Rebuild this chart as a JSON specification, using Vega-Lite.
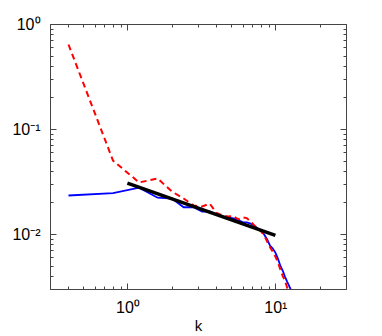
{
  "$schema": "https://vega.github.io/schema/vega-lite/v6.json",
  "width": 296,
  "height": 265,
  "autosize": "none",
  "padding": {"left": 50, "top": 24, "right": 36, "bottom": 47},
  "background": "white",
  "config": {
    "view": {"stroke": null},
    "axis": {
      "domainColor": "#444",
      "tickColor": "#444",
      "grid": false,
      "labelFont": "Liberation Sans",
      "labelFontSize": 16,
      "labelColor": "#000",
      "titleFont": "Liberation Sans",
      "titleFontSize": 15,
      "titleFontWeight": "normal",
      "titleColor": "#000",
      "labelOverlap": false,
      "labelFlush": false
    }
  },
  "datasets": {
    "spec": [
      {"k": 0.4, "E": 0.0233, "s": "blue"},
      {"k": 0.8, "E": 0.0245, "s": "blue"},
      {"k": 1.2, "E": 0.0277, "s": "blue"},
      {"k": 1.6, "E": 0.0222, "s": "blue"},
      {"k": 2.0, "E": 0.0218, "s": "blue"},
      {"k": 2.4, "E": 0.0180, "s": "blue"},
      {"k": 2.8, "E": 0.0180, "s": "blue"},
      {"k": 3.2, "E": 0.0164, "s": "blue"},
      {"k": 3.6, "E": 0.0164, "s": "blue"},
      {"k": 4.0, "E": 0.0153, "s": "blue"},
      {"k": 4.4, "E": 0.0147, "s": "blue"},
      {"k": 4.8, "E": 0.0144, "s": "blue"},
      {"k": 5.2, "E": 0.0141, "s": "blue"},
      {"k": 5.6, "E": 0.0136, "s": "blue"},
      {"k": 6.0, "E": 0.0130, "s": "blue"},
      {"k": 6.4, "E": 0.0129, "s": "blue"},
      {"k": 6.8, "E": 0.0126, "s": "blue"},
      {"k": 7.2, "E": 0.0120, "s": "blue"},
      {"k": 7.6, "E": 0.0113, "s": "blue"},
      {"k": 8.0, "E": 0.0108, "s": "blue"},
      {"k": 8.4, "E": 0.0099, "s": "blue"},
      {"k": 8.8, "E": 0.00887, "s": "blue"},
      {"k": 9.2, "E": 0.00777, "s": "blue"},
      {"k": 9.6, "E": 0.00728, "s": "blue"},
      {"k": 10.0, "E": 0.00667, "s": "blue"},
      {"k": 10.4, "E": 0.00585, "s": "blue"},
      {"k": 10.8, "E": 0.0050, "s": "blue"},
      {"k": 11.2, "E": 0.0045, "s": "blue"},
      {"k": 11.6, "E": 0.00394, "s": "blue"},
      {"k": 12.0, "E": 0.00353, "s": "blue"},
      {"k": 12.4, "E": 0.0032, "s": "blue"},
      {"k": 12.8, "E": 0.0029, "s": "blue"},
      {"k": 13.2, "E": 0.0025, "s": "blue"},
      {"k": 0.4, "E": 0.638, "s": "red"},
      {"k": 0.8, "E": 0.050, "s": "red"},
      {"k": 1.2, "E": 0.031, "s": "red"},
      {"k": 1.6, "E": 0.0338, "s": "red"},
      {"k": 2.0, "E": 0.0254, "s": "red"},
      {"k": 2.4, "E": 0.0218, "s": "red"},
      {"k": 2.8, "E": 0.0187, "s": "red"},
      {"k": 3.2, "E": 0.0183, "s": "red"},
      {"k": 3.6, "E": 0.0195, "s": "red"},
      {"k": 4.0, "E": 0.0159, "s": "red"},
      {"k": 4.4, "E": 0.0150, "s": "red"},
      {"k": 4.8, "E": 0.0147, "s": "red"},
      {"k": 5.2, "E": 0.0149, "s": "red"},
      {"k": 5.6, "E": 0.0138, "s": "red"},
      {"k": 6.0, "E": 0.0144, "s": "red"},
      {"k": 6.4, "E": 0.0142, "s": "red"},
      {"k": 6.8, "E": 0.0132, "s": "red"},
      {"k": 7.2, "E": 0.0121, "s": "red"},
      {"k": 7.6, "E": 0.0113, "s": "red"},
      {"k": 8.0, "E": 0.0106, "s": "red"},
      {"k": 8.4, "E": 0.0097, "s": "red"},
      {"k": 8.8, "E": 0.0085, "s": "red"},
      {"k": 9.2, "E": 0.0075, "s": "red"},
      {"k": 9.6, "E": 0.0068, "s": "red"},
      {"k": 10.0, "E": 0.0061, "s": "red"},
      {"k": 10.4, "E": 0.0054, "s": "red"},
      {"k": 10.8, "E": 0.0046, "s": "red"},
      {"k": 11.2, "E": 0.0040, "s": "red"},
      {"k": 11.6, "E": 0.0036, "s": "red"},
      {"k": 12.0, "E": 0.0031, "s": "red"},
      {"k": 12.4, "E": 0.0028, "s": "red"},
      {"k": 12.8, "E": 0.0025, "s": "red"},
      {"k": 1.0, "E": 0.0305, "s": "fit"},
      {"k": 10.0, "E": 0.0097, "s": "fit"}
    ]
  },
  "data": {"name": "spec"},
  "layer": [
    {
      "transform": [{"filter": "datum.s == 'blue'"}],
      "mark": {"type": "line", "color": "#0000ff", "strokeWidth": 1.8, "clip": true},
      "encoding": {
        "x": {
          "field": "k", "type": "quantitative",
          "scale": {"type": "log", "domain": [0.3, 30], "nice": false},
          "axis": {
            "orient": "bottom",
            "title": "k",
            "titlePadding": 0,
            "values": [0.3,0.4,0.5,0.6,0.7,0.8,0.9,1,2,3,4,5,6,7,8,9,10,20,30],
            "labelExpr": "datum.value == 1 ? '10⁰' : (datum.value == 10 ? '10¹' : '')",
            "tickSize": {"condition": {"test": "abs(log(datum.value)/LN10 - round(log(datum.value)/LN10)) < 0.001", "value": -6}, "value": -3},
            "labelPadding": 16
          }
        },
        "y": {
          "field": "E", "type": "quantitative",
          "scale": {"type": "log", "domain": [0.003, 1], "nice": false},
          "axis": {
            "orient": "left",
            "title": null,
            "values": [0.003,0.004,0.005,0.006,0.007,0.008,0.009,0.01,0.02,0.03,0.04,0.05,0.06,0.07,0.08,0.09,0.1,0.2,0.3,0.4,0.5,0.6,0.7,0.8,0.9,1],
            "labelExpr": "datum.value == 1 ? '10⁰' : (datum.value == 0.1 ? '10⁻¹' : (datum.value == 0.01 ? '10⁻²' : ''))",
            "tickSize": {"condition": {"test": "abs(log(datum.value)/LN10 - round(log(datum.value)/LN10)) < 0.001", "value": -6}, "value": -3},
            "labelPadding": 16
          }
        }
      }
    },
    {
      "transform": [{"filter": "datum.s == 'red'"}],
      "mark": {"type": "line", "color": "#ff0000", "strokeWidth": 2, "strokeDash": [6, 4], "clip": true},
      "encoding": {
        "x": {
          "field": "k", "type": "quantitative",
          "axis": {
            "orient": "top", "title": null, "labels": false,
            "values": [0.3,0.4,0.5,0.6,0.7,0.8,0.9,1,2,3,4,5,6,7,8,9,10,20,30],
            "tickSize": {"condition": {"test": "abs(log(datum.value)/LN10 - round(log(datum.value)/LN10)) < 0.001", "value": -6}, "value": -3}
          }
        },
        "y": {
          "field": "E", "type": "quantitative",
          "axis": {
            "orient": "right", "title": null, "labels": false,
            "values": [0.003,0.004,0.005,0.006,0.007,0.008,0.009,0.01,0.02,0.03,0.04,0.05,0.06,0.07,0.08,0.09,0.1,0.2,0.3,0.4,0.5,0.6,0.7,0.8,0.9,1],
            "tickSize": {"condition": {"test": "abs(log(datum.value)/LN10 - round(log(datum.value)/LN10)) < 0.001", "value": -6}, "value": -3}
          }
        }
      }
    },
    {
      "transform": [{"filter": "datum.s == 'fit'"}],
      "mark": {"type": "line", "color": "#000000", "strokeWidth": 3.5, "clip": true},
      "encoding": {
        "x": {"field": "k", "type": "quantitative", "axis": null},
        "y": {"field": "E", "type": "quantitative", "axis": null}
      }
    }
  ],
  "resolve": {"axis": {"x": "independent", "y": "independent"}}
}
